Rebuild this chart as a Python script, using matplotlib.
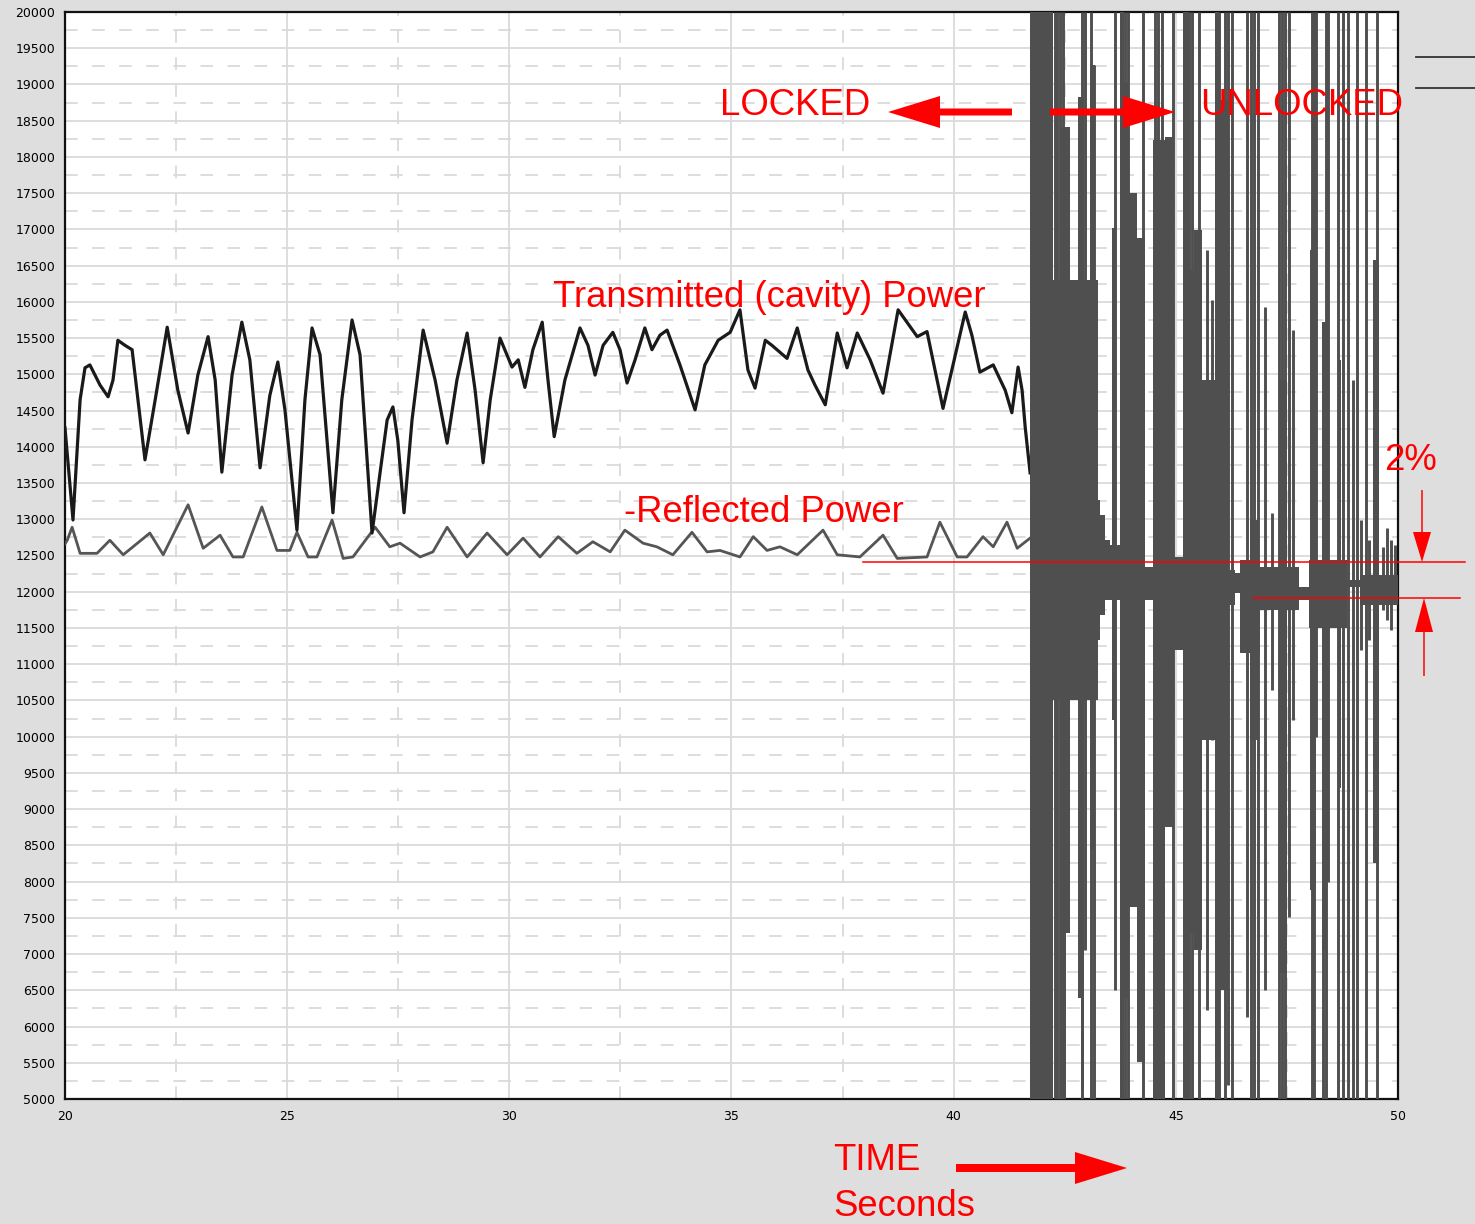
import matplotlib
matplotlib.use('Agg')
import matplotlib.pyplot as plt
from matplotlib.patches import FancyArrow
from matplotlib.lines import Line2D

W, H = 1475, 1224

# transmitted (cavity) power while locked
trans_t = [20.00, 20.18, 20.34, 20.45, 20.56, 20.79, 20.97, 21.08, 21.19, 21.35,
           21.51, 21.80, 22.03, 22.30, 22.54, 22.77, 22.99, 23.22, 23.38, 23.53,
           23.76, 23.98, 24.16, 24.39, 24.61, 24.79, 24.95, 25.22, 25.40, 25.56,
           25.74, 26.03, 26.23, 26.46, 26.64, 26.91, 27.09, 27.25, 27.38, 27.49,
           27.63, 27.81, 28.06, 28.33, 28.60, 28.82, 29.05, 29.23, 29.41, 29.57,
           29.79, 30.06, 30.20, 30.35, 30.53, 30.74, 30.87, 31.01, 31.25, 31.59,
           31.77, 31.93, 32.11, 32.33, 32.49, 32.65, 32.83, 33.05, 33.21, 33.39,
           33.55, 33.84, 34.18, 34.40, 34.70, 34.97, 35.19, 35.37, 35.53, 35.76,
           35.91, 36.25, 36.48, 36.72, 36.88, 37.11, 37.38, 37.60, 37.83, 38.12,
           38.41, 38.75, 39.18, 39.40, 39.58, 39.76, 40.26, 40.41, 40.59, 40.89,
           41.16, 41.31, 41.45, 41.54, 41.61, 41.72]
trans_v = [14260, 12990, 14650, 15090, 15130, 14850, 14690, 14920, 15470, 15400,
           15340, 13820, 14650, 15650, 14780, 14190, 14990, 15520, 14920, 13650,
           14990, 15720, 15200, 13710, 14710, 15170, 14510, 12850, 14650, 15640,
           15270, 13090, 14650, 15750, 15270, 12810, 13640, 14370, 14550, 14090,
           13090, 14370, 15610, 14920, 14050, 14920, 15570, 14780, 13780, 14650,
           15500, 15100, 15200, 14820, 15340, 15720, 14920, 14140, 14920, 15640,
           15400, 14990, 15400, 15580, 15340, 14880, 15200, 15640, 15340, 15540,
           15610, 15130, 14510, 15130, 15470, 15580, 15890, 15060, 14810, 15470,
           15400, 15220, 15640, 15060, 14850, 14580, 15570, 15090, 15570, 15200,
           14740, 15890, 15520, 15590, 15060, 14530, 15860, 15540, 15030, 15130,
           14780, 14470, 15100, 14780, 14270, 13640]

# -reflected power while locked
refl_t = [20.00, 20.05, 20.16, 20.34, 20.72, 21.01, 21.31, 21.91, 22.21, 22.77,
          23.11, 23.49, 23.78, 24.01, 24.43, 24.77, 25.06, 25.22, 25.47, 25.67,
          26.01, 26.26, 26.48, 26.98, 27.31, 27.54, 27.99, 28.28, 28.60, 29.05,
          29.50, 29.95, 30.31, 30.69, 31.10, 31.52, 31.88, 32.27, 32.60, 33.01,
          33.32, 33.68, 34.11, 34.45, 34.74, 35.19, 35.49, 35.80, 36.09, 36.48,
          37.06, 37.38, 37.89, 38.41, 38.73, 39.40, 39.69, 40.08, 40.30, 40.66,
          40.89, 41.20, 41.43, 41.72]
refl_v = [12660, 12710, 12890, 12530, 12530, 12710, 12510, 12810, 12510, 13200,
          12600, 12780, 12480, 12480, 13170, 12570, 12570, 12820, 12480, 12480,
          12990, 12460, 12480, 12890, 12620, 12670, 12480, 12550, 12890, 12480,
          12810, 12510, 12740, 12480, 12760, 12530, 12690, 12550, 12850, 12670,
          12620, 12510, 12820, 12550, 12570, 12480, 12760, 12570, 12620, 12510,
          12850, 12510, 12480, 12780, 12460, 12480, 12960, 12480, 12480, 12760,
          12620, 12960, 12600, 12740]

# unlocked: dense band around the mean
core_t = [42.24, 42.73, 43.25, 43.29, 43.41, 43.52, 44.31, 44.94, 45.59, 45.82,
          46.18, 46.33, 46.45, 46.90, 47.77, 47.99, 48.86, 49.15, 50.00]
core_hi = [13820, 13680, 13270, 13060, 12710, 12640, 12340, 12480, 12440, 12370,
           12300, 12260, 12440, 12340, 12070, 12440, 12160, 12230, 12230]
core_lo = [10510, 10640, 11330, 11680, 11890, 11890, 11890, 11200, 11330, 11750,
           11820, 11980, 11150, 11750, 11890, 11500, 12070, 11820, 11820]

# unlocked: wide bursts (start, end, top, bottom)
burst_t0 = [41.72, 42.24, 42.39, 42.53, 42.80, 42.87, 43.07, 43.57, 43.75, 43.84,
            43.93, 44.13, 44.49, 44.76, 45.16, 45.30, 45.41, 45.59, 45.88, 45.97,
            46.66, 47.35, 48.02, 48.29, 48.65, 49.44]
burst_t1 = [42.24, 43.25, 42.53, 42.62, 42.87, 42.93, 43.18, 43.63, 43.84, 43.93,
            44.13, 44.31, 44.76, 44.94, 45.30, 45.41, 45.59, 45.88, 45.97, 46.18,
            46.87, 47.51, 48.16, 48.40, 48.72, 49.57]
burst_hi = [20000, 16300, 18410, 18410, 18830, 18830, 19270, 17020, 20000, 19020,
            17500, 16880, 18230, 18270, 20000, 16440, 16990, 14920, 20000, 18790,
            12990, 14920, 16720, 15720, 15200, 16580]
burst_lo = [5000, 10510, 5000, 7290, 6390, 5120, 8440, 10230, 5000, 6390,
            7650, 5510, 5000, 8750, 5000, 7290, 7060, 9950, 5000, 6500,
            9950, 6740, 7880, 7060, 9290, 8260]

# unlocked: thin spikes
spike_t = [42.28, 42.33, 42.39, 42.46, 42.89, 42.96, 43.09, 43.16, 43.63, 43.77,
           43.86, 43.93, 44.26, 44.53, 44.60, 44.69, 44.94, 45.30, 45.37, 45.52,
           45.70, 45.82, 45.97, 46.11, 46.18, 46.27, 46.60, 46.69, 46.76, 46.85,
           47.01, 47.17, 47.32, 47.39, 47.46, 47.55, 47.64, 48.06, 48.11, 48.16,
           48.31, 48.38, 48.43, 48.65, 48.76, 48.88, 48.99, 49.08, 49.17, 49.28,
           49.35, 49.53, 49.66, 49.75, 49.84, 49.93]
spike_hi = [20000, 20000, 20000, 20000, 20000, 20000, 20000, 19270, 20000, 20000,
            20000, 20000, 20000, 20000, 20000, 20000, 20000, 20000, 20000, 20000,
            16720, 16030, 20000, 20000, 20000, 20000, 20000, 20000, 20000, 20000,
            15930, 13090, 20000, 20000, 20000, 20000, 15610, 20000, 20000, 20000,
            15720, 20000, 20000, 20000, 20000, 20000, 14920, 20000, 12990, 20000,
            12710, 20000, 12620, 12880, 12710, 12640]
spike_lo = [5000, 5000, 5000, 5000, 5000, 7060, 5000, 5000, 6500, 5000,
            5000, 5000, 5000, 5000, 5000, 5000, 5000, 5000, 5000, 5000,
            6230, 9950, 5000, 5000, 5190, 5000, 6130, 5000, 5000, 5000,
            6500, 10640, 5000, 5000, 5000, 7510, 10230, 5000, 5000, 10000,
            5000, 5000, 8000, 5000, 5000, 5000, 5000, 5000, 11200, 5000,
            11330, 5000, 11750, 11610, 11470, 11890]

x_ticks = [20, 25, 30, 35, 40, 45, 50]
y_ticks = list(range(5000, 20001, 500))


def fx(x):
    return x / W


def fy(y):
    return 1 - y / H


fig = plt.figure(figsize=(W / 100, H / 100), dpi=100, facecolor='#dedede')
ax = fig.add_axes([fx(65), fy(1099), (1398 - 65) / W, (1099 - 12) / H])
ax.set_facecolor('white')

ax.set_xlim(20, 50)
ax.set_ylim(5000, 20000)
ax.set_xticks(x_ticks)
ax.set_yticks(y_ticks)
ax.set_xticks([22.5, 27.5, 32.5, 37.5, 42.5, 47.5], minor=True)
ax.set_yticks([v + 250 for v in y_ticks[:-1]], minor=True)
ax.tick_params(which='both', length=0)
ax.tick_params(axis='y', pad=7, labelsize=9)
ax.tick_params(axis='x', pad=8, labelsize=9)
ax.grid(which='major', color='#dadada', lw=1.3, ls='-')
ax.grid(which='minor', color='#dadada', lw=1.3, ls=(0, (7, 8)))
ax.set_axisbelow(True)
for s in ax.spines.values():
    s.set_linewidth(1.6)
    s.set_color('#111111')

dark = '#4f4f4f'
ax.plot(refl_t, refl_v, color='#555555', lw=2.0, zorder=3)
ax.plot(trans_t, trans_v, color='#1a1a1a', lw=2.3, zorder=3)
ax.fill_between(core_t, core_lo, core_hi, step='post', color=dark, lw=0, zorder=4)
for t0, t1, hi, lo in zip(burst_t0, burst_t1, burst_hi, burst_lo):
    ax.bar(t0, hi - lo, bottom=lo, width=t1 - t0, align='edge', color=dark, lw=0, zorder=4)
ax.vlines(spike_t, spike_lo, spike_hi, color=dark, lw=2.1, zorder=4)

# annotations
red = '#ff0000'
lab = dict(color=red, fontsize=26.3, family='Liberation Sans', va='baseline', ha='left')
fig.text(fx(720), fy(115), 'LOCKED', **lab)
fig.text(fx(1200), fy(115), 'UNLOCKED', **lab)
fig.text(fx(553), fy(307), 'Transmitted (cavity) Power', **lab)
fig.text(fx(624), fy(522), '-Reflected Power', **lab)
fig.text(fx(1384), fy(470), '2%', **lab)
fig.text(fx(833), fy(1170), 'TIME', **lab)
fig.text(fx(833), fy(1216), 'Seconds', **lab)


def harrow(x0, x1, y, shaft, hw, hl):
    fig.add_artist(FancyArrow(fx(x0), fy(y), fx(x1) - fx(x0), 0, width=shaft / H,
                              head_width=hw / H, head_length=hl / W,
                              length_includes_head=True, color=red, lw=0,
                              transform=fig.transFigure))


def varrow(x, y0, y1, shaft, hw, hl):
    fig.add_artist(FancyArrow(fx(x), fy(y0), 0, fy(y1) - fy(y0), width=shaft / W,
                              head_width=hw / W, head_length=hl / H,
                              length_includes_head=True, color=red, lw=0,
                              transform=fig.transFigure))


harrow(1012, 888, 112, 7, 32, 52)
harrow(1050, 1175, 112, 7, 32, 52)
harrow(956, 1127, 1168, 8, 32, 52)
varrow(1422, 490, 562, 1.5, 18, 30)
varrow(1424, 676, 598, 1.5, 18, 34)

fig.add_artist(Line2D([fx(863), fx(1465)], [fy(562), fy(562)], color=red, lw=1.1,
                      transform=fig.transFigure))
fig.add_artist(Line2D([fx(1253), fx(1460)], [fy(598), fy(598)], color=red, lw=1.1,
                      transform=fig.transFigure))
fig.add_artist(Line2D([fx(1416), fx(1475)], [fy(57), fy(57)], color='#333333', lw=1.3,
                      transform=fig.transFigure))
fig.add_artist(Line2D([fx(1416), fx(1475)], [fy(88), fy(88)], color='#333333', lw=1.3,
                      transform=fig.transFigure))

fig.savefig('out.png', dpi=100, facecolor=fig.get_facecolor())
